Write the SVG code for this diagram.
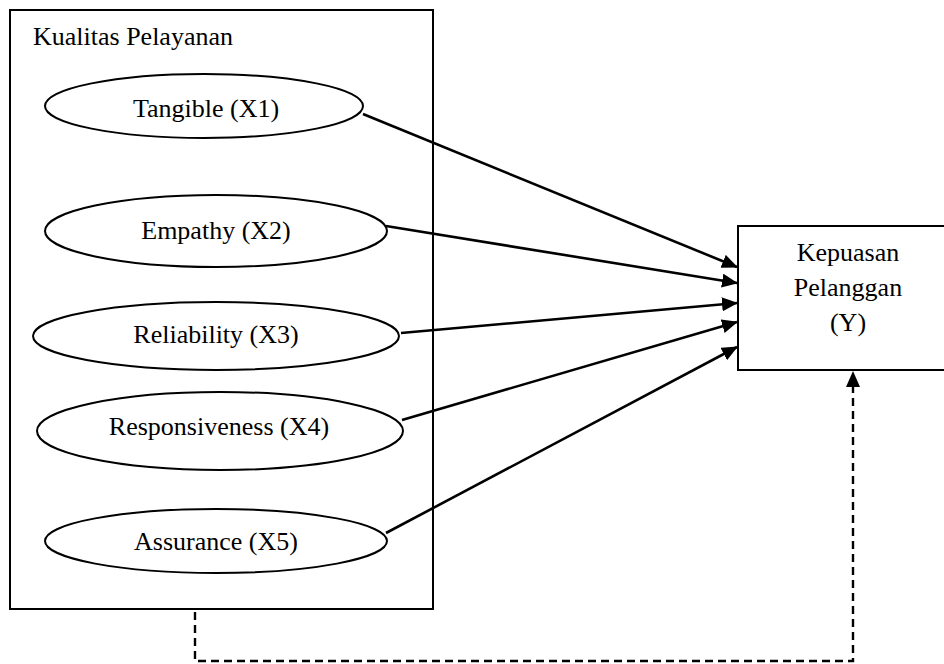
<svg xmlns="http://www.w3.org/2000/svg" width="944" height="664" viewBox="0 0 944 664">
<style>
.t{font-family:"Liberation Serif","Times New Roman",serif;font-size:26px;fill:#000}
.m{text-anchor:middle}
.box{fill:#fff;stroke:#000;stroke-width:2}
.ell{fill:#fff;stroke:#000;stroke-width:2}
.arr{stroke:#000;stroke-width:2.6;fill:none;marker-end:url(#ah)}
.dash{stroke:#000;stroke-width:2.4;fill:none;stroke-dasharray:8 5}
</style>
<defs>
<marker id="ah" markerUnits="userSpaceOnUse" markerWidth="16" markerHeight="14" refX="15" refY="7" orient="auto">
<path d="M0,0 L16,7 L0,14 Z" fill="#000"/>
</marker>
</defs>
<rect width="944" height="664" fill="#fff"/>
<g id="kualitas">
<rect class="box" x="10" y="10" width="423" height="599"/>
<text class="t" x="33" y="45">Kualitas Pelayanan</text>
</g>
<g id="x1"><ellipse class="ell" cx="204" cy="106" rx="159" ry="32"/><text class="t m" x="206" y="117">Tangible (X1)</text></g>
<g id="x2"><ellipse class="ell" cx="216" cy="231" rx="171" ry="36"/><text class="t m" x="216" y="239">Empathy (X2)</text></g>
<g id="x3"><ellipse class="ell" cx="216" cy="336" rx="183" ry="34"/><text class="t m" x="216" y="343">Reliability (X3)</text></g>
<g id="x4"><ellipse class="ell" cx="220" cy="431" rx="183" ry="39"/><text class="t m" x="219" y="435">Responsiveness (X4)</text></g>
<g id="x5"><ellipse class="ell" cx="216" cy="541" rx="171" ry="32"/><text class="t m" x="216" y="550">Assurance (X5)</text></g>
<g id="y">
<rect class="box" x="738" y="226" width="230" height="144"/>
<text class="t m" x="848" y="261">Kepuasan</text>
<text class="t m" x="848" y="296">Pelanggan</text>
<text class="t m" x="848" y="331">(Y)</text>
</g>
<g id="connectors">
<line class="arr" x1="363" y1="114" x2="737" y2="267"/>
<line class="arr" x1="386" y1="226" x2="737" y2="283"/>
<line class="arr" x1="401" y1="333" x2="737" y2="303"/>
<line class="arr" x1="402" y1="420" x2="737" y2="322"/>
<line class="arr" x1="386" y1="533" x2="737" y2="347"/>
<path class="dash" d="M195,612 L195,661 L853,661 L853,386"/>
<path d="M853,371 L860,387 L846,387 Z" fill="#000"/>
</g>
</svg>
